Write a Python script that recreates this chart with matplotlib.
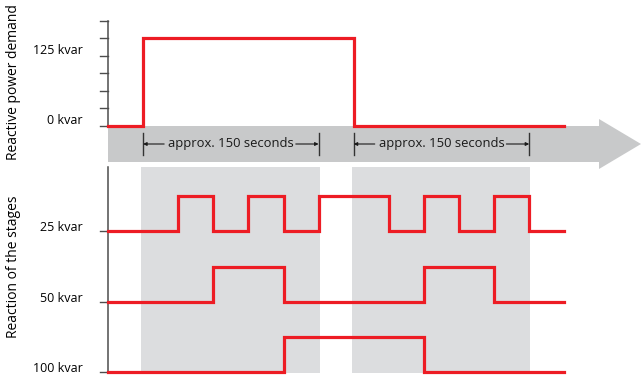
import matplotlib.pyplot as plt
from matplotlib.patches import Polygon

plt.rcParams['font.family'] = ['Open Sans', 'DejaVu Sans']

# time in switching steps (1 step ~ 30 s)
demand_t = [0, 1, 7, 13]
demand_kvar = [0, 125, 0, 0]

stage_names = ['25 kvar', '50 kvar', '100 kvar']
stage_t = [
    [0, 2, 3, 4, 5, 6, 8, 9, 10, 11, 12, 13],
    [0, 3, 5, 9, 11, 13],
    [0, 5, 9, 13],
]
stage_on = [
    [0, 1, 0, 1, 0, 1, 0, 1, 0, 1, 0, 0],
    [0, 1, 0, 1, 0, 0],
    [0, 1, 0, 0],
]

demand_ticks = [0, 25, 50, 75, 100, 125, 150]
demand_labels = ['0 kvar', '125 kvar']
periods = [(1, 6), (7, 12)]
period_text = 'approx. 150 seconds'

RED = '#ED1C24'
AX = '#4d4d4d'
W, H = 642, 376
X0, STEP = 108, 35.1   # pixel of t=0, pixels per step


def px(x):
    return (x - X0) / STEP


fig = plt.figure(figsize=(W / 100, H / 100), dpi=100)
ax = fig.add_axes([0, 0, 1, 1])
ax.set_xlim(px(0), px(W))
ax.set_ylim(H, 0)
ax.axis('off')

# demand panel in kvar
axd = fig.add_axes([0, 0, 1, 1], sharex=ax)
axd.set_ylim((126 - H) / 0.7, 126 / 0.7)
axd.axis('off')
axd.patch.set_alpha(0)

# grey time arrow
arrow = Polygon([(px(108), 126), (px(599), 126), (px(599), 119), (px(641), 144),
                 (px(599), 169), (px(599), 162), (px(108), 162)],
                closed=True, fc='#c8c9ca', ec='none', zorder=1)
ax.add_patch(arrow)

# shaded periods under the stages
for a, b in periods:
    ax.fill_between([a - 0.05, b + 0.03], 167, 373, color='#dcdddf', lw=0, zorder=1)

# demand axis
axd.plot([0, 0], [0, 150], color=AX, lw=1.1, zorder=3)
for v in demand_ticks:
    axd.plot([px(100), 0], [v, v], color=AX, lw=1.0, zorder=3)
axd.step(demand_t, demand_kvar, where='post', color=RED, lw=2.3,
         solid_joinstyle='miter', zorder=4)
ax.text(px(83), 51, demand_labels[1], ha='right', va='center', fontsize=9)
ax.text(px(83), 121, demand_labels[0], ha='right', va='center', fontsize=9)

# period dimensions
for a, b in periods:
    for t in (a, b):
        ax.plot([t, t], [133, 155], color='#333333', lw=1.0, zorder=3)
    mid = (a + b) / 2
    ax.text(mid, 144, period_text, ha='center', va='center', fontsize=9.4,
            color='#1a1a1a', zorder=4)
    ax.annotate('', xy=(a, 144), xytext=(a + 0.6, 144),
                arrowprops=dict(arrowstyle='-|>', color='#1a1a1a', lw=0.8,
                                mutation_scale=5, shrinkA=0, shrinkB=0))
    ax.annotate('', xy=(b, 144), xytext=(b - 0.65, 144),
                arrowprops=dict(arrowstyle='-|>', color='#1a1a1a', lw=0.8,
                                mutation_scale=5, shrinkA=0, shrinkB=0))

# stage panel
rows = [231, 301.5, 372]
ax.plot([0, 0], [167, 373], color=AX, lw=1.1, zorder=3)
for name, base, t, s in zip(stage_names, rows, stage_t, stage_on):
    ax.plot([px(100), 0], [base, base], color=AX, lw=1.0, zorder=3)
    ax.step(t, [base - 35 * v for v in s], where='post', color=RED, lw=2.3,
            solid_joinstyle='miter', zorder=4)
    ax.text(px(83), base - 3.5, name, ha='right', va='center', fontsize=9)

ax.text(px(14), 82, 'Reactive power demand', rotation=90, ha='center',
        va='center', fontsize=10)
ax.text(px(14), 267, 'Reaction of the stages', rotation=90, ha='center',
        va='center', fontsize=10)

fig.savefig('out.png', dpi=100)
